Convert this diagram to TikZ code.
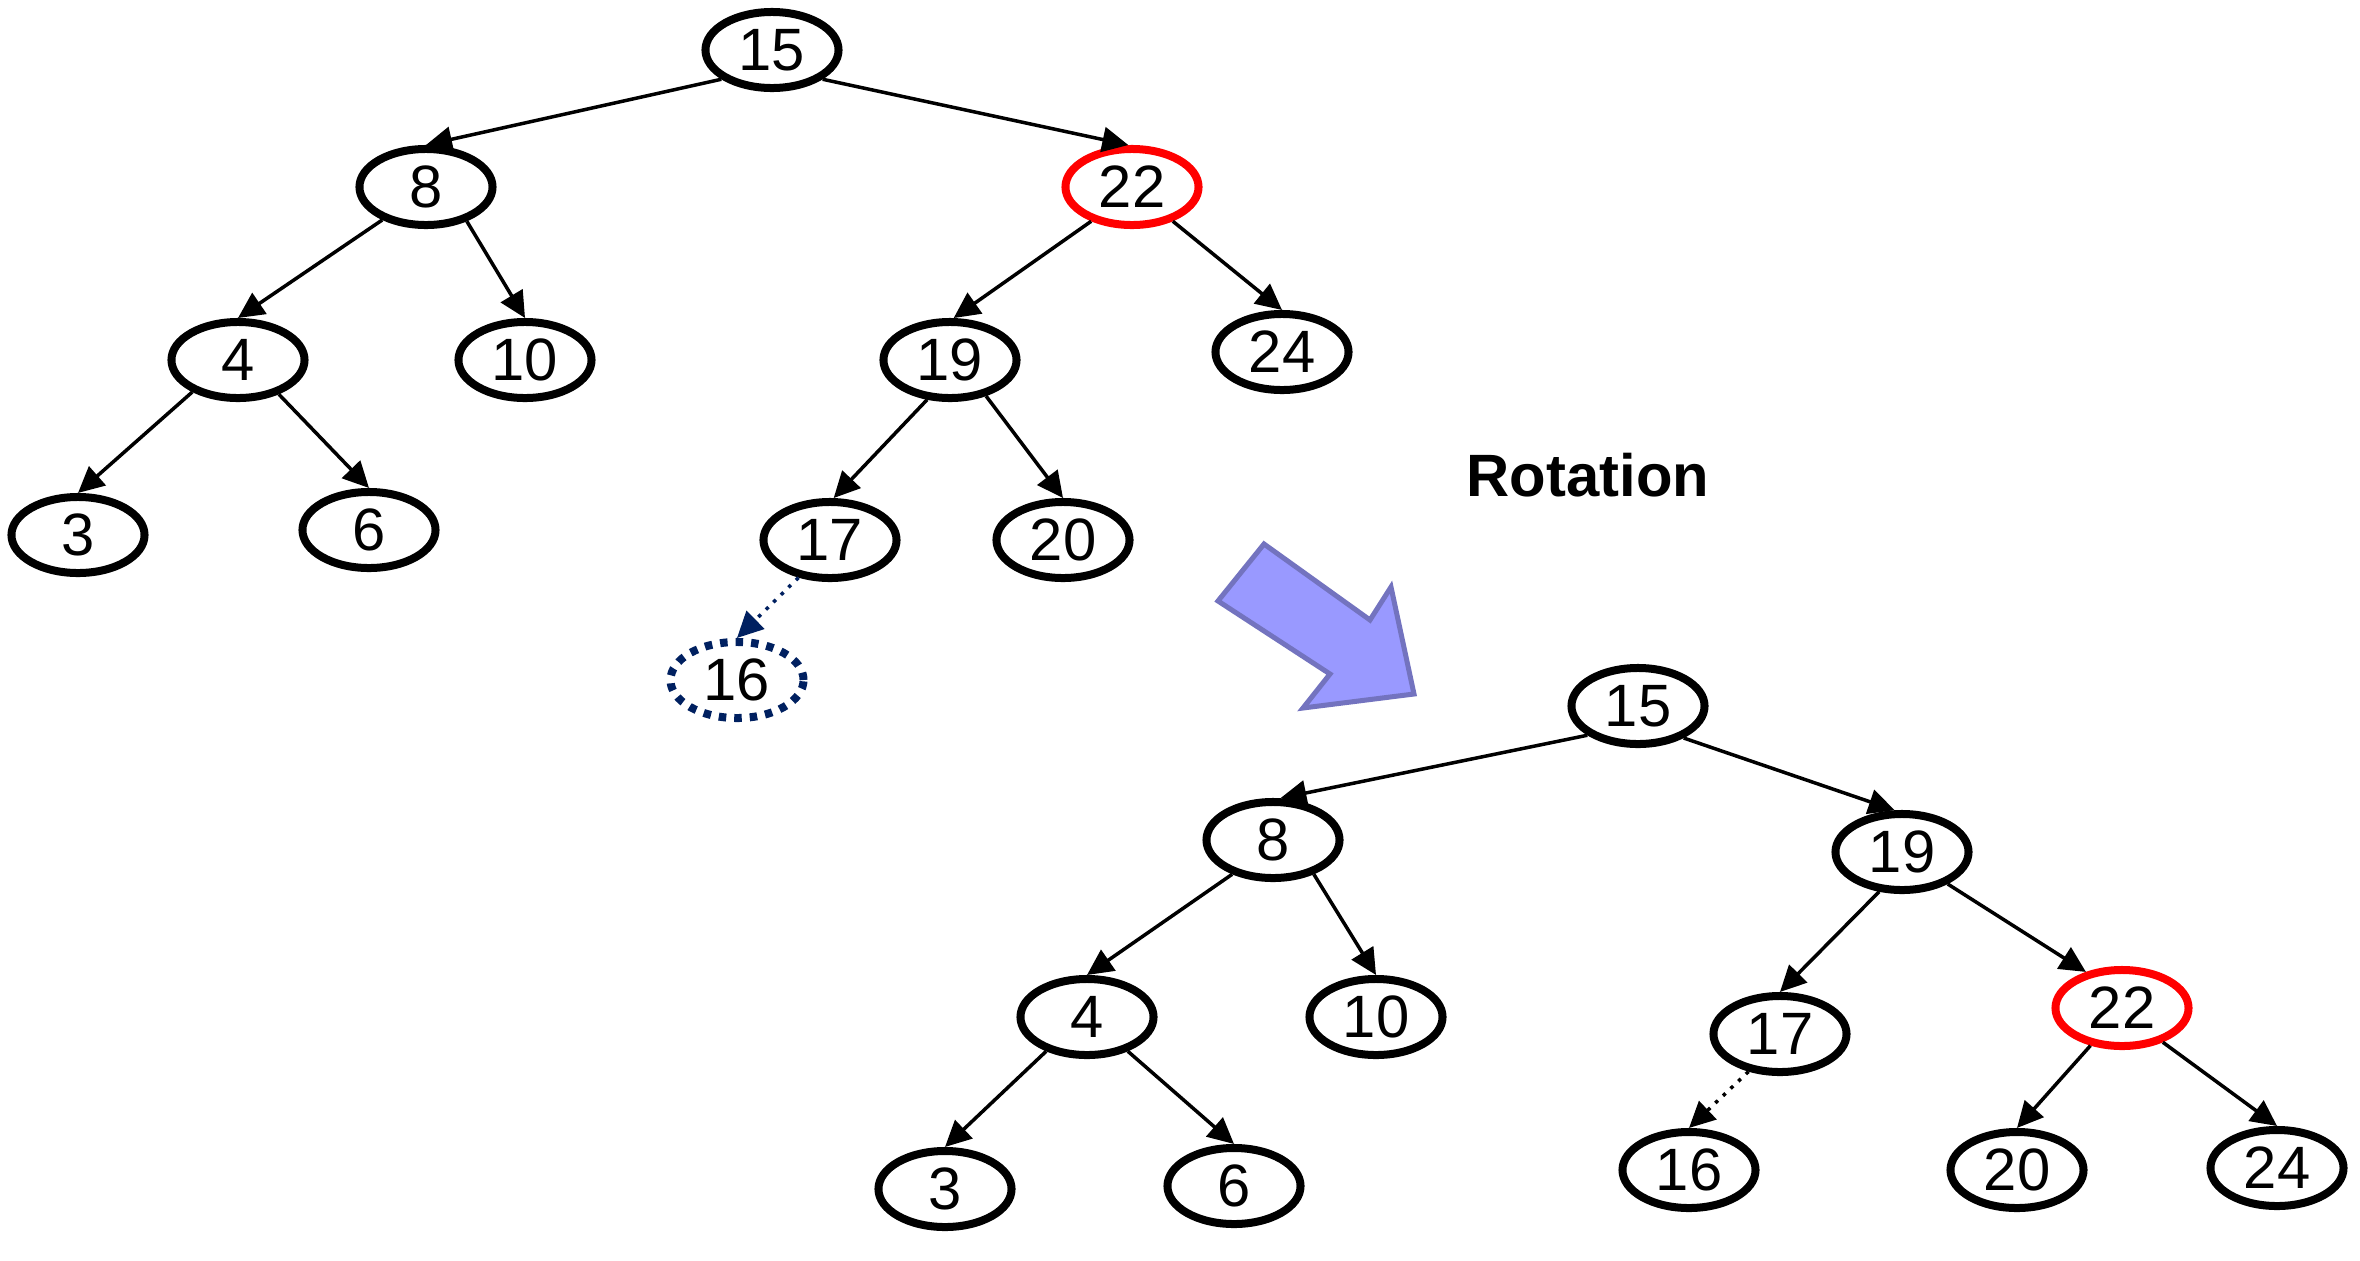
\documentclass[tikz,border=0pt]{standalone}
\usepackage{fontspec}
\setmainfont{Liberation Sans}
\usetikzlibrary{arrows.meta,shapes.geometric}
\definecolor{navy}{HTML}{002060}
\definecolor{arrowfill}{HTML}{9999FF}
\definecolor{arrowedge}{HTML}{7373BF}

\begin{document}
\begin{tikzpicture}[x=0.01cm, y=-0.01cm, every node/.style={font=\fontsize{17}{20}\selectfont}]
\tikzset{key/.style={draw, ellipse, line width=0.08cm, minimum width=1.33cm, minimum height=0.76cm, inner sep=0pt}}
\tikzset{hot/.style={key, draw=red}}
\tikzset{ghost/.style={key, draw=navy, dash pattern=on 0.075cm off 0.08cm}}
\tikzset{link/.style={-{Triangle[length=0.26cm, width=0.25cm]}, line width=0.035cm}}
\useasboundingbox (0,0) rectangle (2360,1260);
% before the rotation
\node[key] (l15) at (772,50) {15};
\node[key] (l8) at (426,187) {8};
\node[hot] (l22) at (1132,187) {22};
\node[key] (l4) at (238,360) {4};
\node[key] (l10) at (525,360) {10};
\node[key] (l19) at (950,360) {19};
\node[key] (l24) at (1282,352) {24};
\node[key] (l3) at (78,535) {3};
\node[key] (l6) at (369,530) {6};
\node[key] (l17) at (830,540) {17};
\node[key] (l20) at (1063,540) {20};
\node[ghost] (l16) at (737,680) {16};
\draw[link] (l15.-150) -- (l8.north);
\draw[link] (l15.-30) -- (l22.95);
\draw[link] (l8.-143) -- (l4.north);
\draw[link] (l8.-40) -- (l10.north);
\draw[link] (l4.-145) -- (l3.north);
\draw[link] (l4.-40) -- (l6.north);
\draw[link] (l22.-140) -- (l19.85);
\draw[link] (l22.-40) -- (l24.north);
\draw[link] (l19.-120) -- (l17.85);
\draw[link] (l19.-45) -- (l20.north);
\draw[link, navy, dotted] (l17.-130) -- (l16.north);
% rotation arrow
\node[font=\fontsize{17}{20}\selectfont\bfseries] (rot) at (1588,475) {Rotation};
\draw[line width=0.05cm, draw=arrowedge, fill=arrowfill, line join=miter]
  (1218,601) -- (1264,544) -- (1370,620) -- (1391,587) -- (1414,694)
  -- (1303,708) -- (1330,674) -- cycle;
% after the rotation
\node[key] (r15) at (1638,706) {15};
\node[key] (r8) at (1273,840) {8};
\node[key] (r19) at (1902,852) {19};
\node[key] (r4) at (1087,1017) {4};
\node[key] (r10) at (1376,1017) {10};
\node[key] (r17) at (1780,1034) {17};
\node[hot] (r22) at (2122,1008) {22};
\node[key] (r3) at (945,1189) {3};
\node[key] (r6) at (1234,1186) {6};
\node[key] (r16) at (1689,1170) {16};
\node[key] (r20) at (2017,1170) {20};
\node[key] (r24) at (2277,1168) {24};
\draw[link] (r15.-150) -- (r8.80);
\draw[link] (r15.-35) -- (r19.100);
\draw[link] (r8.-140) -- (r4.north);
\draw[link] (r8.-40) -- (r10.north);
\draw[link] (r4.-140) -- (r3.north);
\draw[link] (r4.-40) -- (r6.north);
\draw[link] (r19.-120) -- (r17.north);
\draw[link] (r19.-35) -- (r22.135);
\draw[link, dotted] (r17.-130) -- (r16.north);
\draw[link] (r22.-130) -- (r20.north);
\draw[link] (r22.-40) -- (r24.north);
\end{tikzpicture}
\end{document}
